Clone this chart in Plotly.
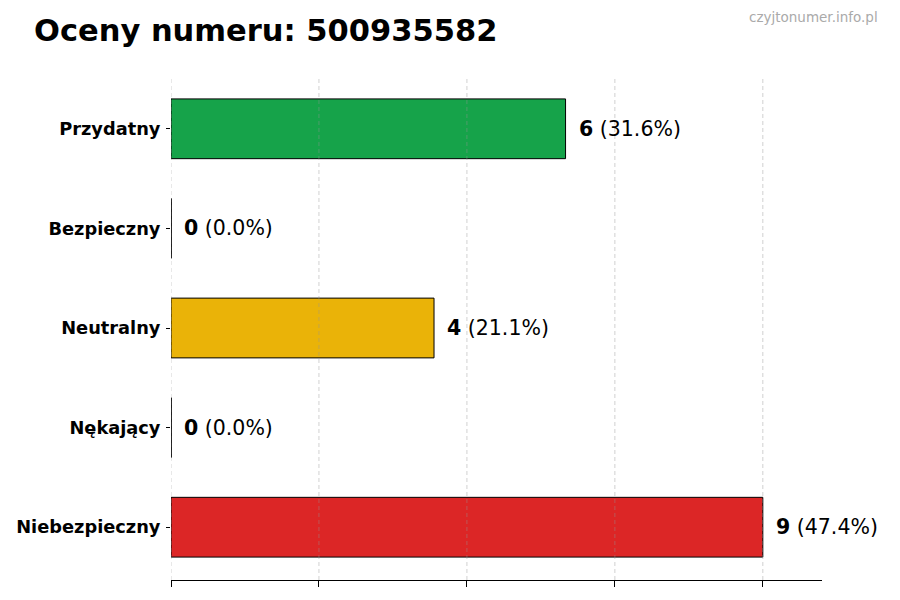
import plotly.graph_objects as go

categories = ["Przydatny", "Bezpieczny", "Neutralny", "Nękający", "Niebezpieczny"]
counts = [6, 0, 4, 0, 9]
colors = ["#16a34a", "#2563eb", "#eab308", "#f97316", "#dc2626"]
title_text = "Oceny numeru: 500935582"
watermark = "czyjtonumer.info.pl"
xticks = [0, 2.25, 4.5, 6.75, 9]

total = sum(counts)
FONT = "DejaVu Sans"
OFF = 8  # page body margin offset

W, H = 900, 600
L, R, T, B = 171 - OFF, W - (822 - OFF), 76 - OFF, H - (580 - OFF)
PW, PH = W - L - R, H - T - B

fig = go.Figure()
fig.add_trace(go.Bar(
    x=counts, y=categories, orientation="h", width=0.6,
    marker=dict(color=colors, line=dict(color="#000000", width=1)),
    hoverinfo="skip", showlegend=False,
))

annotations = []
shapes = []
for t in xticks:
    shapes.append(dict(type="line", xref="x", yref="paper", x0=t, x1=t, y0=0, y1=1,
                       line=dict(color="rgba(150,150,150,0.55)", width=0.8, dash="4px,3px"),
                       layer="above"))
for i, (c, v) in enumerate(zip(categories, counts)):
    pct = 100.0 * v / total if total else 0
    annotations.append(dict(
        x=v, y=c, xref="x", yref="y", xanchor="left", yanchor="middle",
        xshift=11, showarrow=False,
        text=f"<b>{v}</b> ({pct:.1f}%)",
        font=dict(family=FONT, size=20.5, color="#000000"),
    ))
    if v == 0:
        shapes.append(dict(type="line", xref="x", yref="y",
                           x0=v, x1=v, y0=i - 0.3, y1=i + 0.3,
                           line=dict(color="#000000", width=1), layer="above"))

annotations.append(dict(
    xref="paper", yref="paper",
    x=(880 - OFF - L) / PW, y=1 + (T - (17 - OFF)) / PH,
    xanchor="right", yanchor="middle", showarrow=False, text=watermark,
    font=dict(family=FONT, size=13.5, color="#aaaaaa"),
))

fig.update_layout(
    width=W, height=H,
    margin=dict(l=L, r=R, t=T, b=B, autoexpand=False),
    paper_bgcolor="white", plot_bgcolor="white",
    title=dict(text=f"<b>{title_text}</b>", x=(34 - OFF) / W, xanchor="left",
               y=1 - (30 - OFF) / H, yanchor="middle", xref="container", yref="container",
               font=dict(family=FONT, size=30.5, color="#000000")),
    font=dict(family=FONT),
    annotations=annotations,
    shapes=shapes,
)
fig.update_xaxes(
    range=[0, max(counts) * 1.1], tickvals=xticks, showticklabels=False,
    ticks="outside", ticklen=6, tickcolor="#000000", tickwidth=1,
    showline=True, linecolor="#000000", linewidth=1,
    showgrid=False, zeroline=False, automargin=False,
)
fig.update_yaxes(
    type="category", categoryorder="array", categoryarray=categories,
    range=[len(categories) - 1 + 0.53, -0.53],
    ticks="outside", ticklen=4, tickcolor="#000000", tickwidth=1,
    showline=False, showgrid=False, zeroline=False, automargin=False,
    tickfont=dict(family=FONT, size=17.8, color="#000000"),
    ticklabelstandoff=2,
    tickvals=categories, ticktext=[f"<b>{c}</b>" for c in categories],
)

fig.write_html("out.html")
